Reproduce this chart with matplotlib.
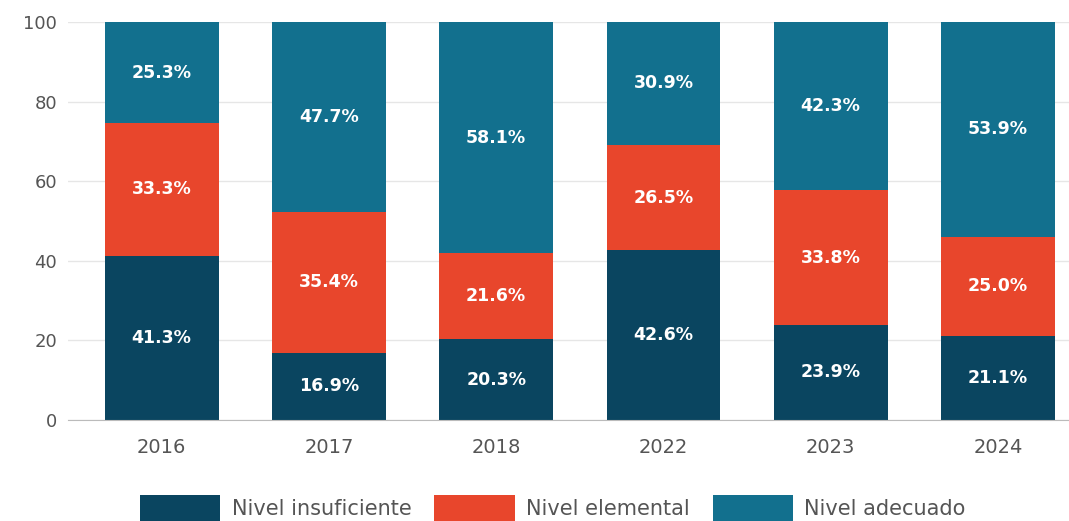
import matplotlib.pyplot as plt
import numpy as np

# datos (porcentajes por nivel)
years = ['2016', '2017', '2018', '2022', '2023', '2024']
insuficiente = [41.3, 16.9, 20.3, 42.6, 23.9, 21.1]
elemental = [33.3, 35.4, 21.6, 26.5, 33.8, 25.0]
adecuado = [25.3, 47.7, 58.1, 30.9, 42.3, 53.9]
series_names = ['Nivel insuficiente', 'Nivel elemental', 'Nivel adecuado']
yticks = [0, 20, 40, 60, 80, 100]

colors = ['#0a4560', '#e8462c', '#12708e']

fig = plt.figure(figsize=(10.69, 5.21), dpi=100)
ax = fig.add_axes([68/1069, 101/521, 1001/1069, 398/521])

x = np.arange(len(years))
w = 0.68
bottom = np.zeros(len(years))
for vals, name, c in zip([insuficiente, elemental, adecuado], series_names, colors):
    vals = np.array(vals)
    bars = ax.bar(x, vals, w, bottom=bottom, color=c, label=name, zorder=2)
    for xi, b, v in zip(x, bottom, vals):
        ax.text(xi, b + v / 2, '%.1f%%' % v, ha='center', va='center',
                color='white', fontsize=12.5, fontweight='bold', zorder=3)
    bottom = bottom + vals

ax.set_xlim(-0.56, 5.425)
ax.set_ylim(0, 100)
ax.set_yticks(yticks)
ax.set_xticks(x)
ax.set_xticklabels(years)
ax.tick_params(axis='both', length=0, colors='#555555', labelsize=14)
ax.tick_params(axis='y', labelsize=13, pad=8)
ax.tick_params(axis='x', pad=13)
ax.grid(axis='y', color='#e6e6e6', lw=1, zorder=0)
for s in ['top', 'right', 'left']:
    ax.spines[s].set_visible(False)
ax.spines['bottom'].set_color('#bbbbbb')

leg = fig.legend(loc='center', bbox_to_anchor=(553/1069, 1 - 508/521), ncol=3,
                 frameon=False, fontsize=15, handlelength=3.85, handleheight=1.5,
                 columnspacing=1.1, handletextpad=0.55)
for t in leg.get_texts():
    t.set_color('#555555')

plt.savefig('out.png', dpi=100)
